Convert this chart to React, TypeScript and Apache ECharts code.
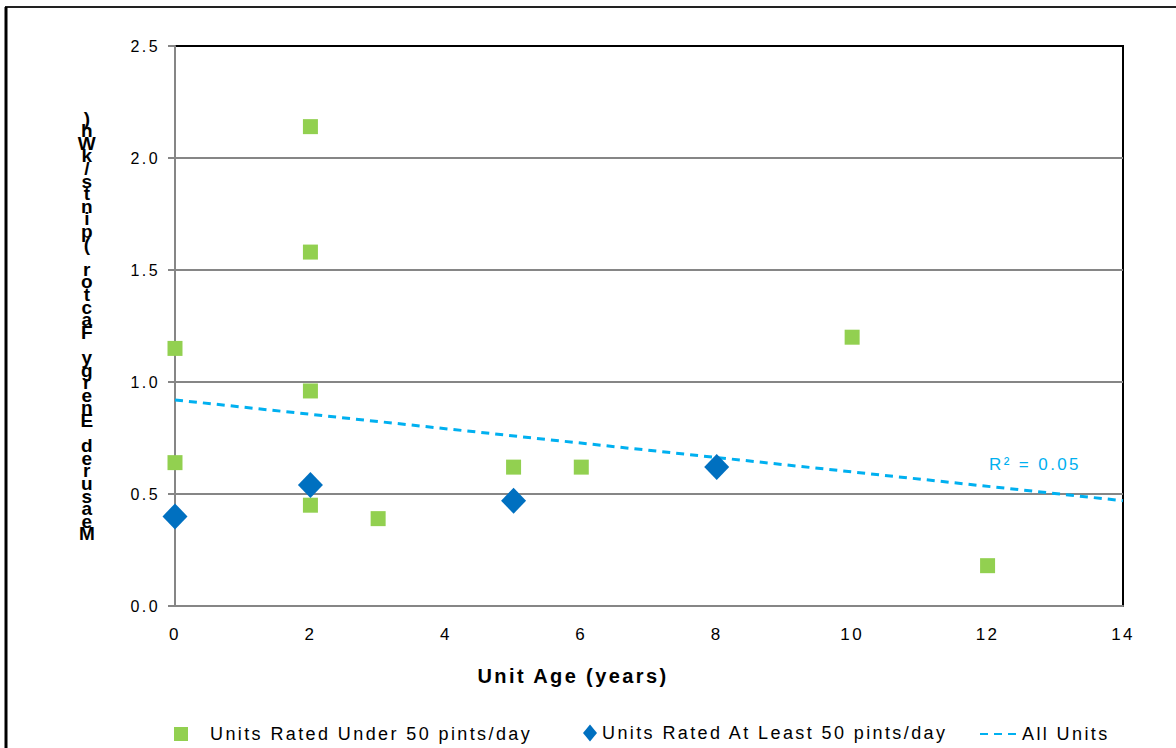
import React, { useEffect, useRef } from "react";
import * as echarts from "echarts";

const xTicks = [0, 2, 4, 6, 8, 10, 12, 14];
const yTicks = [0, 0.5, 1.0, 1.5, 2.0, 2.5];

const underName = "Units Rated Under 50 pints/day";
const underAge = [0, 0, 2, 2, 2, 2, 3, 5, 6, 10, 12];
const underEF = [1.15, 0.64, 2.14, 1.58, 0.96, 0.45, 0.39, 0.62, 0.62, 1.2, 0.18];

const atLeastName = "Units Rated At Least 50 pints/day";
const atLeastAge = [0, 2, 5, 8];
const atLeastEF = [0.4, 0.54, 0.47, 0.62];

const trendName = "All Units";
const trendAge = [0, 14];
const trendEF = [0.92, 0.47];
const rSquaredText = "R² = 0.05";
const rSquaredAt = [12.7, 0.63];

const yTitle = "Measured Energy Factor (pints/kWh)";
const xTitle = "Unit Age (years)";

const GREEN = "#92D050";
const BLUE = "#0070C0";
const CYAN = "#00B0F0";
const GRAY = "#868686";
const FONT = "'Liberation Sans', Arial, sans-serif";
const SPACED = "Arial, sans-serif";

export default function App() {
  const ref = useRef<HTMLDivElement>(null);
  useEffect(() => {
    if (!ref.current) return;
    const chart = echarts.init(ref.current, undefined, { renderer: "svg" });
    const stacked = yTitle.split("").reverse().join("\n");
    const legendText = { fontFamily: SPACED, fontSize: 18, color: "#000" };
    chart.setOption({
      animation: false,
      backgroundColor: "#fff",
      grid: {
        left: 175,
        right: 53,
        top: 46,
        bottom: 142,
        show: true,
        borderColor: "#000",
        borderWidth: 2,
      },
      xAxis: {
        type: "value",
        min: 0,
        max: 14,
        interval: 2,
        axisLine: { show: true, onZero: false, lineStyle: { color: GRAY, width: 2 } },
        axisTick: { show: false },
        splitLine: { show: false },
        axisLabel: { fontFamily: FONT, fontSize: 17, color: "#000", margin: 20 },
        name: xTitle,
        nameLocation: "middle",
        nameGap: 60,
        nameTextStyle: {
          fontFamily: SPACED,
          fontSize: 20,
          fontWeight: "bold",
          color: "#000",
          padding: [0, 152, 0, 0],
        },
      },
      yAxis: {
        type: "value",
        min: 0,
        max: 2.5,
        interval: 0.5,
        axisLine: { show: true, lineStyle: { color: GRAY, width: 2 } },
        axisTick: { show: true, inside: false, length: 7, lineStyle: { color: GRAY, width: 2 } },
        splitLine: { show: true, showMaxLine: false, lineStyle: { color: GRAY, width: 2 } },
        axisLabel: {
          fontFamily: FONT,
          fontSize: 16,
          color: "#000",
          margin: 15,
          formatter: (v: number) => v.toFixed(1),
        },
      },
      legend: [
        {
          data: [underName],
          left: 174,
          top: 725,
          padding: 0,
          itemWidth: 14,
          itemHeight: 14,
          icon: "rect",
          textStyle: { ...legendText, padding: [0, 0, 0, 17] },
        },
        {
          data: [atLeastName],
          left: 583,
          top: 724,
          padding: 0,
          itemWidth: 14,
          itemHeight: 17,
          icon: "diamond",
          textStyle: legendText,
        },
        {
          data: [trendName],
          left: 979,
          top: 725,
          padding: 0,
          itemWidth: 37,
          itemHeight: 14,
          itemStyle: { color: "transparent", borderWidth: 0 },
          textStyle: legendText,
        },
      ],
      graphic: [
        {
          type: "line",
          shape: { x1: 5, y1: 7, x2: 1176, y2: 7 },
          style: { stroke: "#222", lineWidth: 2 },
        },
        {
          type: "line",
          shape: { x1: 6, y1: 7, x2: 6, y2: 748 },
          style: { stroke: "#000", lineWidth: 3 },
        },
        {
          type: "text",
          x: 88,
          y: 326,
          style: {
            text: stacked,
            fontFamily: FONT,
            fontSize: 19,
            fontWeight: "bold",
            lineHeight: 12.6,
            fill: "#000",
            align: "center",
            verticalAlign: "middle",
          },
        },
      ],
      series: [
        {
          name: underName,
          type: "scatter",
          symbol: "rect",
          symbolSize: 15,
          itemStyle: { color: GREEN, opacity: 1 },
          data: underAge.map((a, i) => [a, underEF[i]]),
          z: 3,
        },
        {
          name: atLeastName,
          type: "scatter",
          symbol: "diamond",
          symbolSize: [25, 26],
          itemStyle: { color: BLUE, opacity: 1 },
          data: atLeastAge.map((a, i) => [a, atLeastEF[i]]),
          z: 4,
        },
        {
          name: trendName,
          type: "line",
          showSymbol: false,
          symbol: "none",
          itemStyle: { color: CYAN },
          lineStyle: { color: CYAN, width: 3, type: [8, 6] },
          data: trendAge.map((a, i) => [a, trendEF[i]]),
          z: 2,
          markPoint: {
            symbol: "circle",
            symbolSize: 0,
            data: [
              {
                coord: rSquaredAt,
                label: {
                  show: true,
                  position: "inside",
                  formatter: rSquaredText,
                  fontFamily: SPACED,
                  fontSize: 17,
                  color: CYAN,
                },
              },
            ],
          },
        },
      ],
    });
    return () => chart.dispose();
  }, []);
  return (
    <>
      <style>{`#chart text[style*="Arial, sans"], #chart text[font-family*="Arial, sans"] { letter-spacing: 2.4px; }`}</style>
      <div
        id="chart"
        ref={ref}
        style={{ position: "absolute", left: 0, top: 0, width: 1176, height: 748 }}
      />
    </>
  );
}
